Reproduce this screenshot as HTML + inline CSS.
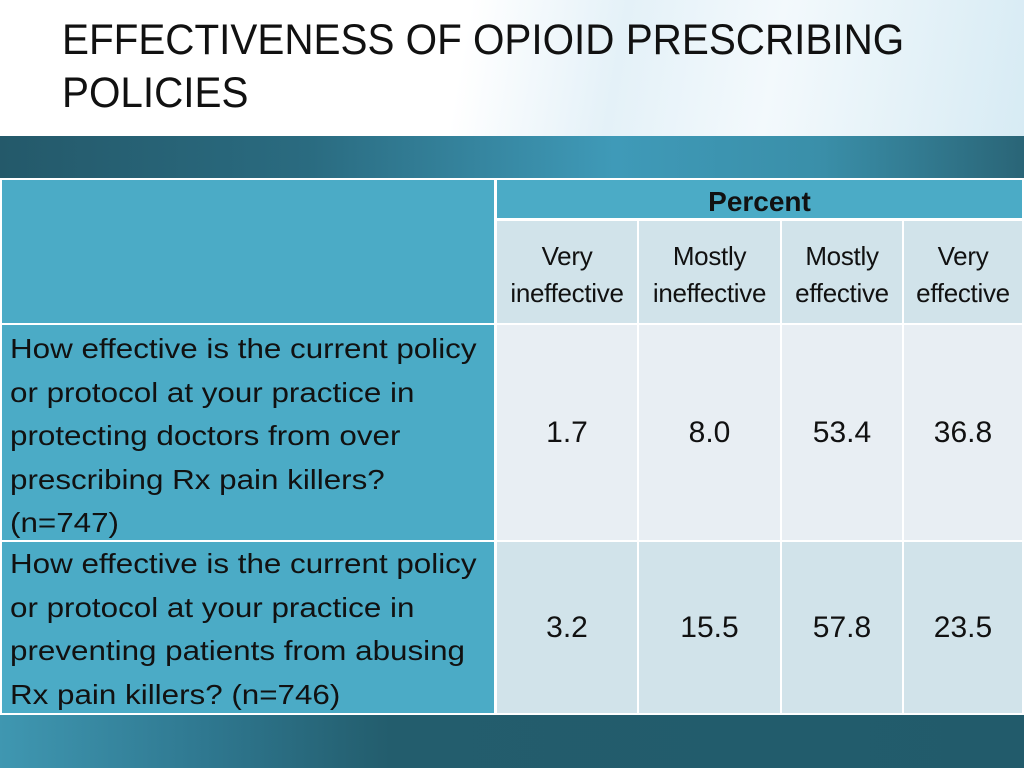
<!DOCTYPE html>
<html><head><meta charset="utf-8">
<style>
*{margin:0;padding:0;box-sizing:border-box}
body{width:1024px;height:768px;overflow:hidden;position:relative;font-family:"Liberation Sans",sans-serif;background:#fff}
#top{position:absolute;left:0;top:0;width:1024px;height:136px;background:linear-gradient(100deg,#ffffff 0%,#ffffff 45%,#e4f1f8 60%,#f3f9fc 75%,#d7ebf4 100%)}
#band{position:absolute;left:0;top:136px;width:1024px;height:44px;background:linear-gradient(90deg,#24596a 0%,#2a6b80 30%,#3f9ab8 60%,#3a8fa9 80%,#2a6577 100%)}
#bottom{position:absolute;left:0;top:714px;width:1024px;height:54px;background:linear-gradient(90deg,#3f97b1 0%,#2f7890 20%,#235d6d 38%,#225b6b 100%)}
#title{position:absolute;left:62px;top:14px;font-size:43px;line-height:53px;color:#111;transform:scaleX(0.94);transform-origin:left top;white-space:nowrap}
.c{position:absolute;color:#111}
.blue{background:#4babc6}
.hd{background:#d1e3ea;text-align:center;font-size:26px;line-height:37px;padding-top:17px;white-space:nowrap;letter-spacing:-0.3px}
.lab{padding:2px 0 0 8px}
.lab span{display:block;font-size:28px;line-height:43.5px;white-space:nowrap;transform:scaleX(1.12);transform-origin:left center}
.v{font-size:30px;display:flex;align-items:center;justify-content:center}
</style></head><body>
<div id="top"></div>
<div id="band"></div>
<div id="bottom"></div>
<div id="title">EFFECTIVENESS OF OPIOID PRESCRIBING<br>POLICIES</div>
<div id="table" style="position:absolute;left:0;top:178px;width:1024px;height:537px;background:#fff">
 <div class="c blue" style="left:2px;top:2px;width:492px;height:143px"></div>
 <div class="c blue" style="left:497px;top:2px;width:525px;height:38px;text-align:center;font-weight:bold;font-size:28px;line-height:44px">Percent</div>
 <div class="c blue lab" style="left:2px;top:147px;width:492px;height:215px"><span>How effective is the current policy</span><span>or protocol at your practice in</span><span>protecting doctors from over</span><span>prescribing Rx pain killers?</span><span>(n=747)</span></div>
 <div class="c blue lab" style="left:2px;top:364px;width:492px;height:171px;padding-top:0"><span>How effective is the current policy</span><span>or protocol at your practice in</span><span>preventing patients from abusing</span><span>Rx pain killers? (n=746)</span></div>
</div>
<script>
const categories=["Very<br>ineffective","Mostly<br>ineffective","Mostly<br>effective","Very<br>effective"];
const q1Values=["1.7","8.0","53.4","36.8"];
const q2Values=["3.2","15.5","57.8","23.5"];
const colX=[497,639,782,904],colW=[140,141,120,118];
const t=document.getElementById('table');
function cell(cls,x,y,w,h,bg,html){const d=document.createElement('div');d.className='c '+cls;d.style.cssText=`left:${x}px;top:${y}px;width:${w}px;height:${h}px;background:${bg}`;d.innerHTML=html;t.appendChild(d);return d;}
categories.forEach((c,i)=>{
 const h=cell('hd',colX[i],43,colW[i],102,'#d1e3ea',c);
 
 
 const a=cell('v',colX[i],147,colW[i],215,'#e8eef3',q1Values[i]);
 
 
 const b=cell('v',colX[i],364,colW[i],171,'#d1e3ea',q2Values[i]);
 
 
});
</script>
</body></html>
